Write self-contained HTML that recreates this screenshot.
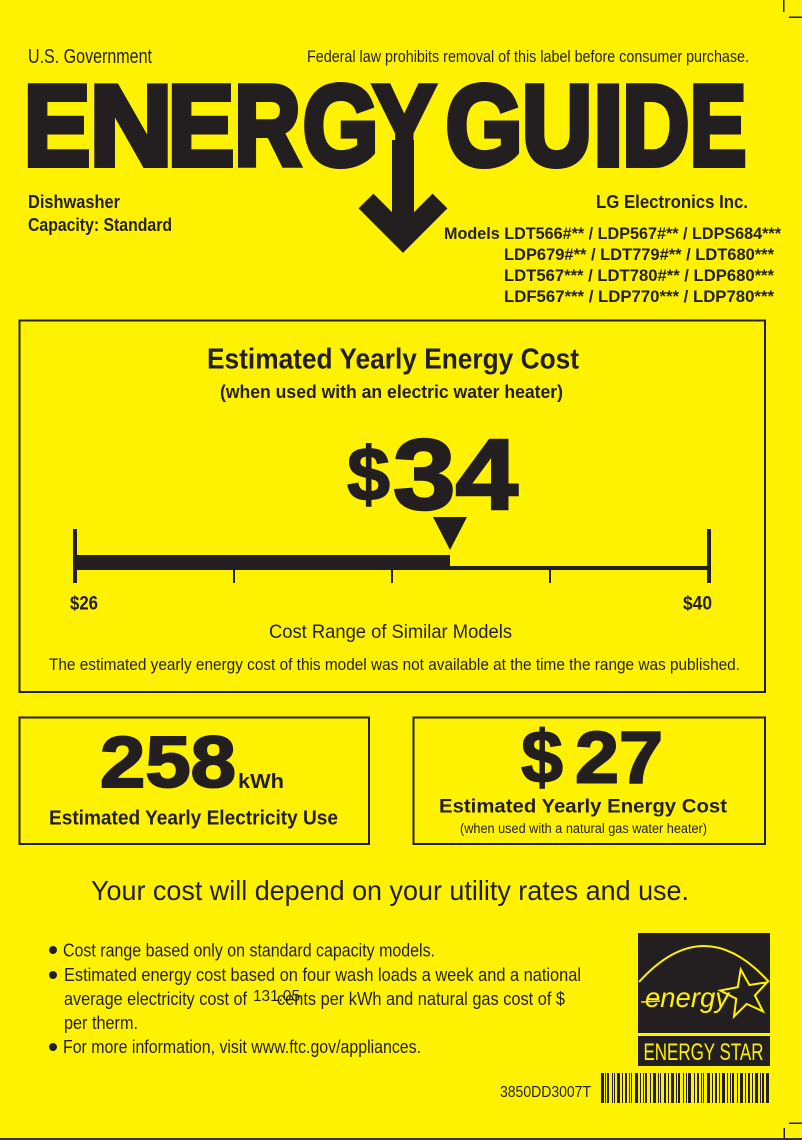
<!DOCTYPE html>
<html>
<head>
<meta charset="utf-8">
<style>
html,body{margin:0;padding:0;background:#fff200;}
svg{display:block;}
text{font-family:"Liberation Sans",Arial,sans-serif;fill:#231f20;}
</style>
</head>
<body>
<svg width="802" height="1140" viewBox="0 0 802 1140" xmlns="http://www.w3.org/2000/svg">
<rect x="0" y="0" width="802" height="1140" fill="#fff200"/>

<!-- corner marks -->
<rect x="783" y="0" width="1.5" height="12" fill="#231f20"/>
<rect x="789" y="16.5" width="13" height="1.5" fill="#231f20"/>
<rect x="789" y="1122.5" width="13" height="1.5" fill="#231f20"/>
<rect x="783.5" y="1128" width="1.5" height="12" fill="#231f20"/>
<rect x="0" y="1138" width="802" height="2" fill="#333"/>

<!-- header -->
<text x="28" y="63" font-size="20.5" textLength="124" lengthAdjust="spacingAndGlyphs">U.S. Government</text>
<text x="307" y="62" font-size="17" textLength="442" lengthAdjust="spacingAndGlyphs">Federal law prohibits removal of this label before consumer purchase.</text>

<!-- ENERGYGUIDE -->
<g font-size="114" font-weight="bold" stroke="#231f20" stroke-width="6" stroke-linejoin="miter">
<text x="23.7" y="165" textLength="66.5" lengthAdjust="spacingAndGlyphs">E</text>
<text x="89.6" y="165" textLength="82.8" lengthAdjust="spacingAndGlyphs">N</text>
<text x="167.7" y="165" textLength="66.5" lengthAdjust="spacingAndGlyphs">E</text>
<text x="234.3" y="165" textLength="66.4" lengthAdjust="spacingAndGlyphs">R</text>
<text x="302.7" y="165" textLength="75.8" lengthAdjust="spacingAndGlyphs">G</text>
<text x="373" y="165" textLength="62.5" lengthAdjust="spacingAndGlyphs">Y</text>
<text x="445.6" y="165" textLength="77" lengthAdjust="spacingAndGlyphs">G</text>
<text x="521.9" y="165" textLength="70.3" lengthAdjust="spacingAndGlyphs">U</text>
<text x="593" y="165" textLength="30.6" lengthAdjust="spacingAndGlyphs">I</text>
<text x="622.2" y="165" textLength="67.1" lengthAdjust="spacingAndGlyphs">D</text>
<text x="689.8" y="165" textLength="56.6" lengthAdjust="spacingAndGlyphs">E</text>
</g>
<!-- arrow -->
<rect x="392" y="140" width="22" height="100" fill="#231f20"/>
<polyline points="366,201 403,238 440,201" fill="none" stroke="#231f20" stroke-width="21" stroke-linejoin="miter" stroke-miterlimit="4"/>

<text x="28" y="208" font-size="18.5" font-weight="bold" textLength="92" lengthAdjust="spacingAndGlyphs">Dishwasher</text>
<text x="28" y="231" font-size="18.5" font-weight="bold" textLength="144" lengthAdjust="spacingAndGlyphs">Capacity: Standard</text>
<text x="596" y="208" font-size="18" font-weight="bold" textLength="152" lengthAdjust="spacingAndGlyphs">LG Electronics Inc.</text>

<g font-size="17" font-weight="bold">
<text x="444" y="239" textLength="337" lengthAdjust="spacingAndGlyphs">Models LDT566#** / LDP567#** / LDPS684***</text>
<text x="504" y="260" textLength="270" lengthAdjust="spacingAndGlyphs">LDP679#** / LDT779#** / LDT680***</text>
<text x="504" y="281" textLength="270" lengthAdjust="spacingAndGlyphs">LDT567*** / LDT780#** / LDP680***</text>
<text x="504" y="302" textLength="270" lengthAdjust="spacingAndGlyphs">LDF567*** / LDP770*** / LDP780***</text>
</g>

<!-- main box -->
<rect x="19.5" y="320.5" width="745.5" height="371.5" fill="none" stroke="#231f20" stroke-width="2"/>
<text x="207" y="368.5" font-size="28.8" font-weight="bold" textLength="372" lengthAdjust="spacingAndGlyphs">Estimated Yearly Energy Cost</text>
<text x="220" y="398" font-size="18" font-weight="bold" textLength="343" lengthAdjust="spacingAndGlyphs">(when used with an electric water heater)</text>

<text x="347" y="500.5" font-size="76" font-weight="bold" textLength="43" lengthAdjust="spacingAndGlyphs" stroke="#231f20" stroke-width="1.5">$</text>
<text x="393" y="509" font-size="100" font-weight="bold" textLength="125" lengthAdjust="spacingAndGlyphs" stroke="#231f20" stroke-width="2.5">34</text>

<polygon points="433,517 467,517 450,550" fill="#231f20"/>
<rect x="75" y="555" width="375" height="15" fill="#231f20"/>
<rect x="450" y="566" width="258" height="4" fill="#231f20"/>
<rect x="73" y="529" width="4" height="54" fill="#231f20"/>
<rect x="707" y="529" width="4" height="54" fill="#231f20"/>
<rect x="233" y="570" width="2" height="13" fill="#231f20"/>
<rect x="391" y="570" width="2" height="13" fill="#231f20"/>
<rect x="549" y="570" width="2" height="13" fill="#231f20"/>

<text x="70" y="609.5" font-size="19.5" font-weight="bold" textLength="28" lengthAdjust="spacingAndGlyphs">$26</text>
<text x="683" y="609.5" font-size="19.5" font-weight="bold" textLength="29" lengthAdjust="spacingAndGlyphs">$40</text>
<text x="269" y="638" font-size="19.5" textLength="243" lengthAdjust="spacingAndGlyphs">Cost Range of Similar Models</text>
<text x="49" y="670" font-size="17" textLength="691" lengthAdjust="spacingAndGlyphs">The estimated yearly energy cost of this model was not available at the time the range was published.</text>

<!-- lower boxes -->
<rect x="19.5" y="717.5" width="349.5" height="126.5" fill="none" stroke="#231f20" stroke-width="2"/>
<rect x="413.5" y="717.5" width="351.5" height="126.5" fill="none" stroke="#231f20" stroke-width="2"/>

<text x="100" y="787" font-size="72" font-weight="bold" textLength="136" lengthAdjust="spacingAndGlyphs" stroke="#231f20" stroke-width="2">258</text>
<text x="238" y="788" font-size="20" font-weight="bold" textLength="46" lengthAdjust="spacingAndGlyphs">kWh</text>
<text x="49" y="824.5" font-size="20" font-weight="bold" textLength="289" lengthAdjust="spacingAndGlyphs">Estimated Yearly Electricity Use</text>

<text x="521" y="782.5" font-size="74" font-weight="bold" textLength="42" lengthAdjust="spacingAndGlyphs" stroke="#231f20" stroke-width="1.5">$</text>
<text x="575" y="782.5" font-size="73" font-weight="bold" textLength="88" lengthAdjust="spacingAndGlyphs" stroke="#231f20" stroke-width="2">27</text>
<text x="439" y="812.5" font-size="19.5" font-weight="bold" textLength="288" lengthAdjust="spacingAndGlyphs">Estimated Yearly Energy Cost</text>
<text x="460" y="833" font-size="13.5" textLength="247" lengthAdjust="spacingAndGlyphs">(when used with a natural gas water heater)</text>

<text x="91" y="900" font-size="28" textLength="598" lengthAdjust="spacingAndGlyphs">Your cost will depend on your utility rates and use.</text>

<!-- bullets -->
<circle cx="53" cy="950" r="4" fill="#231f20"/>
<circle cx="53" cy="975" r="4" fill="#231f20"/>
<circle cx="53" cy="1047" r="4" fill="#231f20"/>
<g font-size="18">
<text x="63" y="956.5" textLength="372" lengthAdjust="spacingAndGlyphs">Cost range based only on standard capacity models.</text>
<text x="64" y="981" textLength="517" lengthAdjust="spacingAndGlyphs">Estimated energy cost based on four wash loads a week and a national</text>
<text x="64" y="1005" textLength="183" lengthAdjust="spacingAndGlyphs">average electricity cost of</text>
<text x="277" y="1005" textLength="288" lengthAdjust="spacingAndGlyphs">cents per kWh and natural gas cost of $</text>
<text x="64" y="1029" textLength="74" lengthAdjust="spacingAndGlyphs">per therm.</text>
<text x="63" y="1053" textLength="358" lengthAdjust="spacingAndGlyphs">For more information, visit www.ftc.gov/appliances.</text>
</g>
<text x="253" y="1001" font-size="16" textLength="47" lengthAdjust="spacingAndGlyphs">131.05</text>

<text x="500" y="1097" font-size="16" textLength="91" lengthAdjust="spacingAndGlyphs">3850DD3007T</text>

<!-- energy star logo -->
<rect x="638" y="933" width="132" height="100" fill="#231f20"/>
<rect x="638" y="1036" width="132" height="30" fill="#231f20"/>
<path d="M639 982 Q704 910 769 982" fill="none" stroke="#fff200" stroke-width="2"/>
<polygon points="740.7,969.4 749.4,985 767.1,982.3 754.9,995.4 763,1011.4 746.7,1003.9 734,1016.5 736.2,998.7 720.2,990.5 737.8,987.1" fill="#231f20" stroke="#fff200" stroke-width="2"/>
<text x="645" y="1007" font-family="Liberation Serif, serif" font-style="italic" font-size="28" textLength="84" lengthAdjust="spacingAndGlyphs" style="fill:#fff200">energy</text>
<line x1="641" y1="1002" x2="660" y2="1001" stroke="#fff200" stroke-width="1.5"/>
<text x="643.5" y="1060" font-size="24" textLength="120" lengthAdjust="spacingAndGlyphs" style="fill:#fff200">ENERGY STAR</text>

<!-- barcode -->
<g fill="#231f20">
<rect x="601" y="1073" width="3" height="30"/><rect x="605" y="1073" width="1" height="30"/><rect x="607" y="1073" width="2" height="30"/>
<rect x="612" y="1073" width="1" height="30"/><rect x="614" y="1073" width="1" height="30"/><rect x="617" y="1073" width="3" height="30"/>
<rect x="622" y="1073" width="1" height="30"/><rect x="625" y="1073" width="2" height="30"/><rect x="629" y="1073" width="1" height="30"/>
<rect x="631" y="1073" width="1" height="30"/><rect x="635" y="1073" width="3" height="30"/><rect x="640" y="1073" width="1" height="30"/>
<rect x="643" y="1073" width="1" height="30"/><rect x="645" y="1073" width="2" height="30"/><rect x="650" y="1073" width="1" height="30"/>
<rect x="653" y="1073" width="3" height="30"/><rect x="658" y="1073" width="1" height="30"/><rect x="660" y="1073" width="1" height="30"/>
<rect x="664" y="1073" width="2" height="30"/><rect x="668" y="1073" width="1" height="30"/><rect x="671" y="1073" width="3" height="30"/>
<rect x="676" y="1073" width="1" height="30"/><rect x="678" y="1073" width="2" height="30"/><rect x="683" y="1073" width="1" height="30"/>
<rect x="686" y="1073" width="1" height="30"/><rect x="688" y="1073" width="3" height="30"/><rect x="694" y="1073" width="1" height="30"/>
<rect x="697" y="1073" width="2" height="30"/><rect x="701" y="1073" width="1" height="30"/><rect x="703" y="1073" width="1" height="30"/>
<rect x="707" y="1073" width="3" height="30"/><rect x="712" y="1073" width="1" height="30"/><rect x="715" y="1073" width="2" height="30"/>
<rect x="719" y="1073" width="1" height="30"/><rect x="722" y="1073" width="3" height="30"/><rect x="727" y="1073" width="1" height="30"/>
<rect x="730" y="1073" width="1" height="30"/><rect x="732" y="1073" width="2" height="30"/><rect x="737" y="1073" width="1" height="30"/>
<rect x="740" y="1073" width="3" height="30"/><rect x="745" y="1073" width="1" height="30"/><rect x="748" y="1073" width="2" height="30"/>
<rect x="752" y="1073" width="1" height="30"/><rect x="755" y="1073" width="3" height="30"/><rect x="760" y="1073" width="1" height="30"/>
<rect x="762" y="1073" width="2" height="30"/><rect x="766" y="1073" width="3" height="30"/>
</g>
</svg>
</body>
</html>
